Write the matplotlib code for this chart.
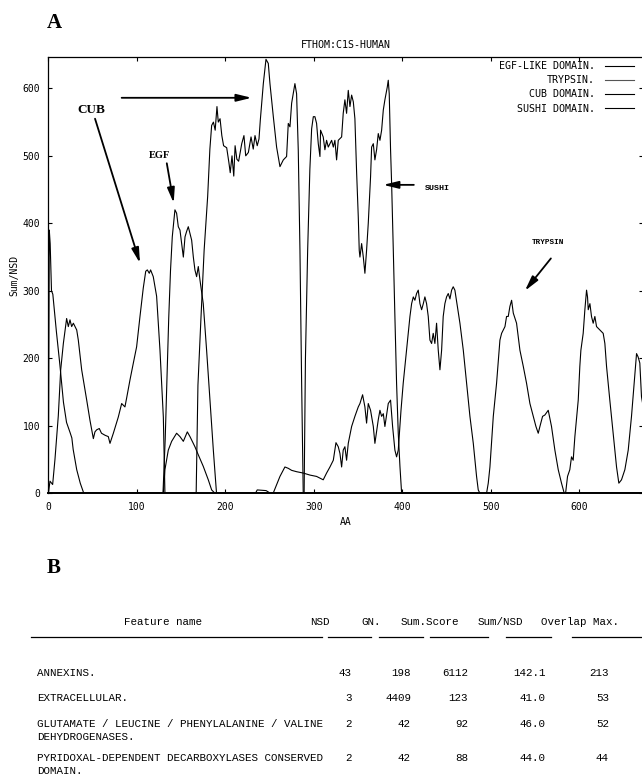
import matplotlib
matplotlib.use("Agg")
import matplotlib.pyplot as plt
from matplotlib.lines import Line2D

# ---------------- data ----------------
egf_x = [0, 1, 2, 3.5, 5, 9, 13, 17, 20.5, 24.5, 26.5, 28, 32, 36, 40,
         129.5, 132, 134, 136, 138, 140, 141.5, 143, 144.9, 146.8, 148.7, 150.6,
         152.5, 154.4, 156.2, 158.1, 160, 161.9, 163.8, 165.6, 167.5, 169.4,
         171.3, 175, 178.8, 182.6, 186.4, 190, 690]
egf_y = [0, 390, 370, 300, 295, 240, 190, 135, 105, 90, 82, 65, 35, 15, 0,
         0, 80, 170, 260, 330, 380, 400, 420, 415, 395, 390, 370,
         350, 380, 388, 395, 385, 375, 350, 331, 321, 336,
         316, 281, 212, 138, 64, 0, 0]

cub_x = [0, 1.8, 4.8, 7.4, 11.2, 13.9, 16.9, 20.6, 22.5, 24.4, 26.3, 28.2, 32,
         33.8, 37.6, 39.5, 43.3, 47, 50.8, 52.6, 54.5, 57.5, 60, 64, 67.7, 69.6,
         73.4, 79, 82.8, 86.5, 88.4, 92.2, 96, 99.7, 103.5, 107.2, 110, 111.8,
         114, 115.5, 118.5, 122.3, 126.1, 129.9, 131.7,
         167, 169, 172.5, 176, 180, 182.5, 184.5, 186.5, 188.5, 190.5, 192, 194,
         196, 198, 201.5, 204, 205.5, 207.5, 209.5, 211, 213, 215, 218.5, 221,
         223, 226, 229, 231.5, 233.5, 236, 238, 239.5, 242.9, 245.9, 248.5,
         250.4, 254.2, 257.9, 261.7, 265.5, 269.2, 271.1, 273, 274.9, 278.6,
         280.5, 282.4, 284.3, 286.2, 288, 690]
cub_y = [0, 18, 13, 50, 115, 183, 222, 259, 247, 257, 247, 252, 242,
         227, 183, 168, 138, 108, 81, 91, 94, 96, 89, 86, 84, 74,
         89, 113, 133, 128, 141, 168, 193, 217, 262, 304, 329, 331,
         326, 331, 321, 292, 212, 113, 0,
         0, 160, 262, 360, 440, 510, 545, 550, 538, 573, 550, 555,
         530, 515, 512, 490, 475, 500, 470, 515, 495, 492, 518, 530,
         500, 505, 528, 510, 530, 515, 525, 553, 607, 643, 637,
         607, 558, 513, 484, 494, 499, 548, 543, 578, 607,
         592, 508, 360, 163, 0, 0]

sushi_x = [0, 289, 290.5, 293, 295.5, 297.5, 299.4, 301.2, 303.1, 305, 306.9,
           307.6, 310.6, 312.5, 314.4, 316.3, 318.2, 320.1, 322, 323.8, 325.7,
           327.6, 331.4, 333.2, 335.1, 337, 338.9, 340.8, 342.7, 344.6, 346.4,
           348.3, 350.2, 351.3, 352.1, 354, 355.9, 357.7, 359.6, 361.5, 364.1,
           365.3, 367.2, 369, 370.9, 372.8, 374.7, 376.6, 378.5, 380.3, 383,
           384.1, 385.2, 386.7, 387.9, 389.8, 391.6, 393.5, 395.4, 397.3, 399.2,
           690]
sushi_y = [0, 0, 200, 360, 480, 540, 558, 558, 548, 518, 499,
           538, 528, 509, 523, 513, 518, 523, 513, 523, 494,
           523, 528, 563, 583, 563, 597, 573, 590, 580, 555,
           477, 410, 360, 350, 370, 350, 326, 360, 400, 469,
           513, 518, 494, 509, 533, 523, 538, 568, 583, 602,
           612, 592, 509, 459, 360, 262, 163, 89, 40, 0,
           0]

trypsin_x = [0, 129.9, 131.7, 135.5, 139.3, 144.9, 148.7, 152.5, 157, 160,
             165.6, 169.4, 175, 180.7, 184.5, 188.3, 234, 236, 246, 251, 254,
             261.7, 267.3, 271.1, 274.9, 280.5, 288, 295.6, 303.1, 310.6, 314.4,
             318.2, 322, 325, 327.6, 329.5, 331.4, 333.2, 335.1, 337, 338.9,
             342.7, 346.4, 350.2, 352.1, 355.1, 357.7, 359.6, 361.5, 364.1,
             367.2, 369, 372.8, 374.7, 376.6, 378.5, 380.3, 384.1, 386.7, 389,
             391.6, 393.5, 395.4, 397.3, 398.5, 401, 404.8, 408.6, 410.5, 412.4,
             414.2, 416.1, 418, 419.9, 421.8, 423.7, 425.5, 427.4, 429.3, 431.2,
             433.1, 434.9, 436.8, 438.7, 440.6, 442.5, 444.4, 446.2, 448.1, 450,
             451.9, 453.8, 455.7, 457.5, 459.4, 461.3, 465.1, 468.9, 472.6,
             476.4, 480.2, 483.9, 485.8, 487.7, 495.2, 497.1, 499, 502.8, 506.5,
             510.3, 512.2, 516, 517.8, 519.7, 521.6, 523.5, 525.4, 529.1, 532.9,
             536.7, 540.4, 544.2, 548, 551, 553.6, 555.5, 558.5, 561.1, 564.9,
             568.6, 572.4, 576.2, 579.9, 583, 584.5, 586.7, 589.3, 591.2, 593.1,
             595, 598.8, 600.6, 601.8, 604.4, 606.3, 608.2, 609.3, 610.1, 612,
             613.8, 615.7, 617.6, 619.5, 623.2, 627, 628.9, 630.8, 634.5, 638.3,
             642.1, 644.7, 647.7, 651.5, 655.3, 659, 662, 664.7, 666.5, 668.4,
             670.3, 672, 680]
trypsin_y = [0, 0, 35, 64, 77, 89, 84, 77, 91, 84,
             69, 57, 40, 20, 5, 0, 0, 5, 4, 0, 0,
             25, 39, 37, 34, 32, 30, 27, 25, 20, 30,
             39, 49, 75, 69, 59, 39, 64, 69, 49, 74,
             99, 114, 128, 133, 146, 128, 104, 133, 123,
             99, 74, 109, 123, 114, 118, 99, 133, 138, 99,
             64, 54, 64, 99, 123, 163, 212, 262, 281, 291,
             286, 296, 301, 281, 272, 281, 291, 281, 262, 227,
             222, 237, 222, 252, 212, 183, 212, 262, 281, 291,
             296, 288, 301, 306, 301, 285, 252, 212, 163,
             114, 74, 25, 5, 0, 0, 15, 39, 114, 163,
             227, 237, 247, 262, 262, 277, 286, 267, 252, 212,
             188, 163, 133, 114, 99, 89, 99, 114, 116, 123,
             99, 64, 35, 15, 0, 0, 25, 35, 54, 49,
             84, 138, 188, 212, 237, 272, 301, 291, 272, 281,
             262, 252, 262, 247, 242, 237, 222, 188, 138, 89,
             39, 15, 20, 35, 64, 114, 163, 207, 202, 193,
             143, 130, 100]

series_names = ["EGF-LIKE DOMAIN.", "TRYPSIN.", "CUB DOMAIN.", "SUSHI DOMAIN."]

x_ticks = [0, 100, 200, 300, 400, 500, 600]
y_ticks = [0, 100, 200, 300, 400, 500, 600]

table_header = ["Feature name", "NSD", "GN.", "Sum.Score", "Sum/NSD", "Overlap Max."]
feature_names = ["ANNEXINS.", "EXTRACELLULAR.",
                 "GLUTAMATE / LEUCINE / PHENYLALANINE / VALINE\nDEHYDROGENASES.",
                 "PYRIDOXAL-DEPENDENT DECARBOXYLASES CONSERVED\nDOMAIN."]
nsd = ["43", "3", "2", "2"]
gn = ["198", "4409", "42", "42"]
sum_score = ["6112", "123", "92", "88"]
sum_nsd = ["142.1", "41.0", "46.0", "44.0"]
overlap_max = ["213", "53", "52", "44"]

# ---------------- figure ----------------
W, H = 642, 778
fig = plt.figure(figsize=(W / 100, H / 100), dpi=100)

def fx(px):
    return px / W

def fy(py):
    return 1 - py / H

ax_left, ax_right, ax_top, ax_bot = 48.4, 643.0, 57.3, 493.3
ax = fig.add_axes([fx(ax_left), fy(ax_bot), (ax_right - ax_left) / W,
                   (ax_bot - ax_top) / H])

mono = "DejaVu Sans Mono"
lw = 0.8
h1, = ax.plot(egf_x, egf_y, color="black", lw=lw)
h2, = ax.plot(trypsin_x, trypsin_y, color="black", lw=lw)
h3, = ax.plot(cub_x, cub_y, color="black", lw=lw)
h4, = ax.plot(sushi_x, sushi_y, color="black", lw=lw)

ax.set_xlim(0, 672)
ax.set_ylim(0, 646)
ax.set_xticks(x_ticks)
ax.set_yticks(y_ticks)
ax.tick_params(direction="in", length=3, width=0.8, top=True, right=True,
               labelsize=7, pad=6)
for lab in ax.get_xticklabels() + ax.get_yticklabels():
    lab.set_fontfamily(mono)
for s in ax.spines.values():
    s.set_linewidth(0.9)
ax.spines["bottom"].set_linewidth(1.4)

ax.set_xlabel("AA", fontfamily=mono, fontsize=7, labelpad=4)
ax.set_ylabel("Sum/NSD", fontfamily=mono, fontsize=7, labelpad=2)
ax.set_title("FTHOM:C1S-HUMAN", fontfamily=mono, fontsize=7.2, pad=7)

leg_handles = [Line2D([], [], color="black", lw=0.8),
               Line2D([], [], color="#555555", lw=0.8),
               Line2D([], [], color="black", lw=0.8),
               Line2D([], [], color="black", lw=0.8)]
leg = fig.legend(leg_handles, series_names, loc="upper right",
                 bbox_to_anchor=(fx(634), fy(61)), frameon=False,
                 markerfirst=False, handlelength=2.9, handletextpad=1.0,
                 labelspacing=0.42, borderpad=0, borderaxespad=0,
                 prop={"family": mono, "size": 7.2})

# annotations
arrow_kw = dict(arrowstyle="-|>,head_length=0.9,head_width=0.22",
                color="black", lw=1.3, shrinkA=0, shrinkB=0)
serif_bold = dict(fontfamily="Liberation Serif", fontweight="bold")
ax.text(49, 568, "CUB", ha="center", va="center", fontsize=9.5, **serif_bold)
ax.annotate("", xy=(229.7, 586), xytext=(82.8, 586), arrowprops=arrow_kw)
ax.annotate("", xy=(103.5, 341), xytext=(52.7, 555), arrowprops=arrow_kw)
ax.text(126, 500, "EGF", ha="center", va="center", fontsize=7.5, **serif_bold)
ax.annotate("", xy=(141.6, 430), xytext=(133.8, 489), arrowprops=arrow_kw)
ax.text(440, 451, "SUSHI", ha="center", va="center", fontsize=6,
        fontfamily="Liberation Mono", fontweight="bold")
ax.annotate("", xy=(378.4, 457), xytext=(413, 457), arrowprops=arrow_kw)
ax.text(564.6, 371, "TRYPSIN", ha="center", va="center", fontsize=5.5,
        fontfamily="Liberation Mono", fontweight="bold")
ax.annotate("", xy=(538.5, 300), xytext=(567.9, 348), arrowprops=arrow_kw)

# panel letters
fig.text(fx(47), fy(28), "A", fontsize=15, fontfamily="Liberation Serif",
         fontweight="bold", ha="left", va="baseline")
fig.text(fx(47), fy(573), "B", fontsize=15, fontfamily="Liberation Serif",
         fontweight="bold", ha="left", va="baseline")

# ---------------- table B ----------------
tmono = dict(fontfamily="Liberation Mono", fontsize=7.8)
header_x = [163.5, 320, 371, 429.5, 500, 580]
for hx, txt in zip(header_x, table_header):
    fig.text(fx(hx), fy(622), txt, ha="center", va="center", **tmono)

underline_segments = [(31, 322), (328, 371), (379, 423), (430, 488),
                      (506, 551), (572, 642)]
for x0, x1 in underline_segments:
    fig.add_artist(Line2D([fx(x0), fx(x1)], [fy(637), fy(637)],
                          color="black", lw=0.9))

row_y = [673, 698, 724, 758]
line_gap = 13.5
col_right = [352, 411, 468, 546, 609]
for i, ry in enumerate(row_y):
    for j, ln in enumerate(feature_names[i].split("\n")):
        fig.text(fx(37), fy(ry + j * line_gap), ln, ha="left", va="center",
                 **tmono)
    for cx, val in zip(col_right, [nsd[i], gn[i], sum_score[i], sum_nsd[i],
                                   overlap_max[i]]):
        fig.text(fx(cx), fy(ry), val, ha="right", va="center", **tmono)

fig.savefig("out.png", dpi=100)
